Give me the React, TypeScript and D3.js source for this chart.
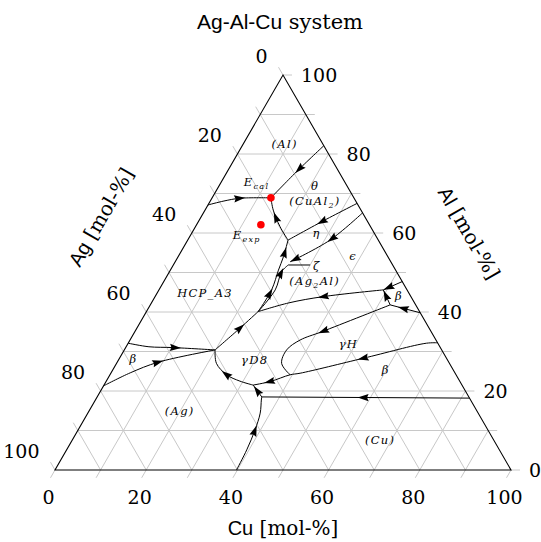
import { useEffect, useRef } from "react";
import * as d3 from "d3";

const W = 541;
const H = 542;

// triangle corners in pixels: Ag (bottom left), Cu (bottom right), Al (top)
const BL = [55, 470];
const BR = [511, 470];
const TOP = [283, 75];

const gridValues = d3.range(10, 100, 10);
const tickValues = d3.range(0, 101, 10);
const tickLabels = [0, 20, 40, 60, 80, 100];

// univariant lines, as [Cu, Al] in mol-%, listed in the direction of the arrows
const alCuAl2Line = [[17.9, 82.1], [15.2, 75.5], [12.9, 68.9]];
const alHcpLine = [[0, 67.1], [3.0, 68.1], [6.2, 68.8], [12.9, 68.9]];
const cuAl2HcpLine = [[22.0, 58.2], [18.55, 61.6], [14.96, 65.8], [12.9, 68.9]];
const thetaEtaLine = [[32.5, 67.5], [27.1, 62.9], [22.0, 58.2]];
const etaEpsLine = [[34.9, 65.1], [31.2, 58.2], [25.2, 52.7]];
const etaHcpLine = [[24.5, 40.1], [24.7, 45.6], [23.7, 50.6], [23.1, 54.0], [22.0, 58.2]];
const zetaHcpLine = [[24.5, 40.1], [25.5, 45.6], [24.6, 50.2], [25.2, 51.9]];
const gammaHcpLine = [[19.9, 30.4], [22.6, 35.9], [24.5, 40.1]];
const ag2AlBetaLine = [[49.2, 45.6], [36.9, 43.9], [30.1, 42.3], [24.5, 40.1]];
const epsBetaLine = [[52.3, 47.7], [49.2, 45.6]];
const betaUpperLine = [[60.2, 39.8], [52.6, 41.8]];
const betaShortLine = [[52.6, 41.8], [49.2, 45.6]];
const gammaHLoop = [[52.6, 41.8], [41.0, 35.0], [37.3, 32.9], [35.6, 30.4], [36.2, 27.0], [39.5, 24.1]];
const gammaHBetaLine = [[67.8, 32.2], [65.4, 32.1], [53.5, 28.3], [41.5, 24.5], [39.5, 24.1], [36.0, 22.4], [32.7, 21.5]];
const gammaD8Line = [[32.7, 21.5], [29.3, 22.5], [25.6, 24.1], [21.9, 27.0], [19.9, 30.4]];
const cuShortLine = [[36.1, 18.5], [32.7, 21.5]];
const betaCuLine = [[81.8, 18.2], [36.1, 18.5]];
const agCuLine = [[39.8, 0], [39.5, 5.1], [38.8, 10.1], [37.8, 14.4], [36.4, 17.7], [36.1, 18.5]];
const hcpBetaLine = [[0, 32.1], [5.0, 31.2], [10.3, 31.0], [19.9, 30.4]];
const agBetaLine = [[0, 21.3], [4.2, 24.6], [9.0, 27.3], [19.9, 30.4]];
const zetaTie = [[25.2, 51.9], [30.0, 51.9]];

const curves = [
  { pts: alCuAl2Line, arrows: [0.45] },
  { pts: alHcpLine, arrows: [0.5] },
  { pts: cuAl2HcpLine, arrows: [0.55] },
  { pts: thetaEtaLine, arrows: [0.5] },
  { pts: etaEpsLine, arrows: [0.45, 0.93] },
  { pts: etaHcpLine, arrows: [0.27, 0.83] },
  { pts: zetaHcpLine, arrows: [0.8] },
  { pts: gammaHcpLine, arrows: [0.57] },
  { pts: ag2AlBetaLine, arrows: [0.47] },
  { pts: epsBetaLine, arrows: [0.7] },
  { pts: betaUpperLine, arrows: [0.55] },
  { pts: betaShortLine, arrows: [0.6] },
  { pts: gammaHLoop, arrows: [0.5] },
  { pts: gammaHBetaLine, arrows: [0.4, 0.91] },
  { pts: gammaD8Line, arrows: [0.5] },
  { pts: cuShortLine, arrows: [0.5] },
  { pts: betaCuLine, arrows: [0.51] },
  { pts: agCuLine, arrows: [0.55] },
  { pts: hcpBetaLine, arrows: [0.54] },
  { pts: agBetaLine, arrows: [0.5] },
  { pts: zetaTie, arrows: [] },
];

const eutectics = [
  { name: "cal", pt: [12.9, 68.9] },
  { name: "exp", pt: [14.1, 62.1] },
];

// phase labels: [text, subscript, tail], position [Cu, Al]
const phaseLabels = [
  { t: "(Al)", sub: "", tail: "", pt: [9.1, 82.5] },
  { t: "E", sub: "cal", tail: "", pt: [7.7, 73.0] },
  { t: "θ", sub: "", tail: "", pt: [21.1, 71.9] },
  { t: "(CuAl", sub: "2", tail: ")", pt: [22.9, 68.2] },
  { t: "E", sub: "exp", tail: "", pt: [12.3, 59.5] },
  { t: "η", sub: "", tail: "", pt: [27.4, 59.9] },
  { t: "ϵ", sub: "", tail: "", pt: [38.3, 54.2] },
  { t: "ζ", sub: "", tail: "", pt: [31.6, 51.6] },
  { t: "(Ag", sub: "2", tail: "Al)", pt: [33.0, 47.9] },
  { t: "β", sub: "", tail: "", pt: [53.4, 44.1] },
  { t: "HCP_A3", sub: "", tail: "", pt: [10.5, 44.8] },
  { t: "γH", sub: "", tail: "", pt: [48.4, 31.9] },
  { t: "γD8", sub: "", tail: "", pt: [29.9, 27.8] },
  { t: "β", sub: "", tail: "", pt: [59.9, 25.3] },
  { t: "β", sub: "", tail: "", pt: [3.2, 28.0] },
  { t: "(Ag)", sub: "", tail: "", pt: [19.9, 14.9] },
  { t: "(Cu)", sub: "", tail: "", pt: [67.5, 7.6] },
];

const SERIF = "DejaVu Serif, Liberation Serif, Times New Roman, serif";
const SANS = "Liberation Sans, Arial, sans-serif";

const App = () => {
  const ref = useRef<SVGSVGElement>(null);

  useEffect(() => {
    const svg = d3.select(ref.current);
    svg.selectAll("*").remove();

    const xs = d3.scaleLinear().domain([0, 100]).range([0, BR[0] - BL[0]]);
    const ys = d3.scaleLinear().domain([0, 100]).range([BL[1], TOP[1]]);
    const proj = (cu: number, al: number): [number, number] => [
      BL[0] + xs(cu) + xs(al) / 2,
      ys(al),
    ];

    const gridColor = "#c8c8c8";
    const tickLen = 9;
    const g = svg.append("g");

    // grid
    gridValues.forEach((v) => {
      // constant Al (horizontal)
      const a1 = proj(0, v), a2 = proj(100 - v, v);
      g.append("line").attr("x1", a1[0]).attr("y1", a1[1]).attr("x2", a2[0]).attr("y2", a2[1]);
      // constant Cu
      const c1 = proj(v, 0), c2 = proj(v, 100 - v);
      g.append("line").attr("x1", c1[0]).attr("y1", c1[1]).attr("x2", c2[0]).attr("y2", c2[1]);
      // constant Ag
      const b1 = proj(100 - v, 0), b2 = proj(0, 100 - v);
      g.append("line").attr("x1", b1[0]).attr("y1", b1[1]).attr("x2", b2[0]).attr("y2", b2[1]);
    });
    g.selectAll("line").attr("stroke", gridColor).attr("stroke-width", 1);

    // ticks + labels
    const tg = svg.append("g").attr("stroke", gridColor).attr("stroke-width", 1);
    const lg = svg.append("g").style("font-family", SERIF).attr("font-size", 19).attr("fill", "#000");
    const dl = [-0.5 * tickLen, 0.866 * tickLen];
    tickValues.forEach((v) => {
      // Cu along bottom
      const p = proj(v, 0);
      tg.append("line").attr("x1", p[0]).attr("y1", p[1]).attr("x2", p[0] + dl[0]).attr("y2", p[1] + dl[1]);
      if (tickLabels.includes(v))
        lg.append("text").attr("x", p[0] + dl[0] - 2).attr("y", p[1] + dl[1] + 26)
          .attr("text-anchor", "middle").text(v);
      // Al along right edge
      const q = proj(100 - v, v);
      tg.append("line").attr("x1", q[0]).attr("y1", q[1]).attr("x2", q[0] + tickLen).attr("y2", q[1]);
      if (tickLabels.includes(v))
        lg.append("text").attr("x", q[0] + tickLen + 9).attr("y", q[1] + 7).text(v);
      // Ag along left edge
      const r = proj(0, 100 - v);
      tg.append("line").attr("x1", r[0]).attr("y1", r[1]).attr("x2", r[0] - 0.5 * tickLen).attr("y2", r[1] - 0.866 * tickLen);
      if (tickLabels.includes(v))
        lg.append("text").attr("x", r[0] - 0.5 * tickLen - 11).attr("y", r[1] - 0.866 * tickLen - 4)
          .attr("text-anchor", "end").text(v);
    });

    // triangle frame
    svg.append("path")
      .attr("d", `M${BL}L${BR}L${TOP}Z`)
      .attr("fill", "none").attr("stroke", "#000").attr("stroke-width", 1.1);

    // univariant lines with arrows
    const line = d3.line<number[]>()
      .x((d) => proj(d[0], d[1])[0])
      .y((d) => proj(d[0], d[1])[1])
      .curve(d3.curveCatmullRom.alpha(0.5));
    const cg = svg.append("g");
    curves.forEach((c) => {
      const path = cg.append("path")
        .attr("d", line(c.pts))
        .attr("fill", "none").attr("stroke", "#000").attr("stroke-width", 1);
      const node = path.node() as SVGPathElement;
      const L = node.getTotalLength();
      c.arrows.forEach((f) => {
        const s = Math.min(f * L, L - 1);
        const a = node.getPointAtLength(s);
        const b = node.getPointAtLength(Math.min(s + 1, L));
        const ang = (Math.atan2(b.y - a.y, b.x - a.x) * 180) / Math.PI;
        cg.append("path")
          .attr("d", "M6,0 L-5,-3.6 L-3.5,0 L-5,3.6 Z")
          .attr("transform", `translate(${a.x},${a.y}) rotate(${ang})`)
          .attr("fill", "#000");
      });
    });

    // eutectic points
    eutectics.forEach((e) => {
      const p = proj(e.pt[0], e.pt[1]);
      svg.append("circle").attr("cx", p[0]).attr("cy", p[1]).attr("r", 3.8).attr("fill", "#f00");
    });

    // phase labels
    const pg = svg.append("g").style("font-family", SERIF).attr("font-style", "italic")
      .attr("font-size", 11.5).attr("fill", "#000");
    phaseLabels.forEach((l) => {
      const p = proj(l.pt[0], l.pt[1]);
      const t = pg.append("text").attr("x", p[0]).attr("y", p[1] + 4)
        .attr("text-anchor", "middle").attr("letter-spacing", 1.3);
      t.append("tspan").text(l.t);
      if (l.sub) {
        t.append("tspan").attr("font-size", 8).attr("dy", 3).text(l.sub);
        if (l.tail) t.append("tspan").attr("dy", -3).text(l.tail);
      }
    });

    // title and axis names
    const title = svg.append("text").attr("x", 280).attr("y", 29)
      .attr("text-anchor", "middle").attr("font-size", 21);
    title.append("tspan").style("font-family", SANS).text("Ag-Al-Cu");
    title.append("tspan").style("font-family", SERIF).text(" system");

    const axisName = (name: string, x: number, y: number, rot: number) => {
      const t = svg.append("text")
        .attr("transform", `translate(${x},${y}) rotate(${rot})`)
        .attr("text-anchor", "middle").attr("dominant-baseline", "central")
        .attr("font-size", 20);
      t.append("tspan").style("font-family", SANS).text(name);
      t.append("tspan").style("font-family", SERIF).text(" [mol-%]");
    };
    axisName("Cu", 283, 528, 0);
    axisName("Al", 469, 233, 60);
    axisName("Ag", 101, 217, -60);
  }, []);

  return (
    <svg
      ref={ref}
      width={W}
      height={H}
      style={{ position: "absolute", left: 0, top: 0, background: "#fff" }}
    />
  );
};

export default App;
